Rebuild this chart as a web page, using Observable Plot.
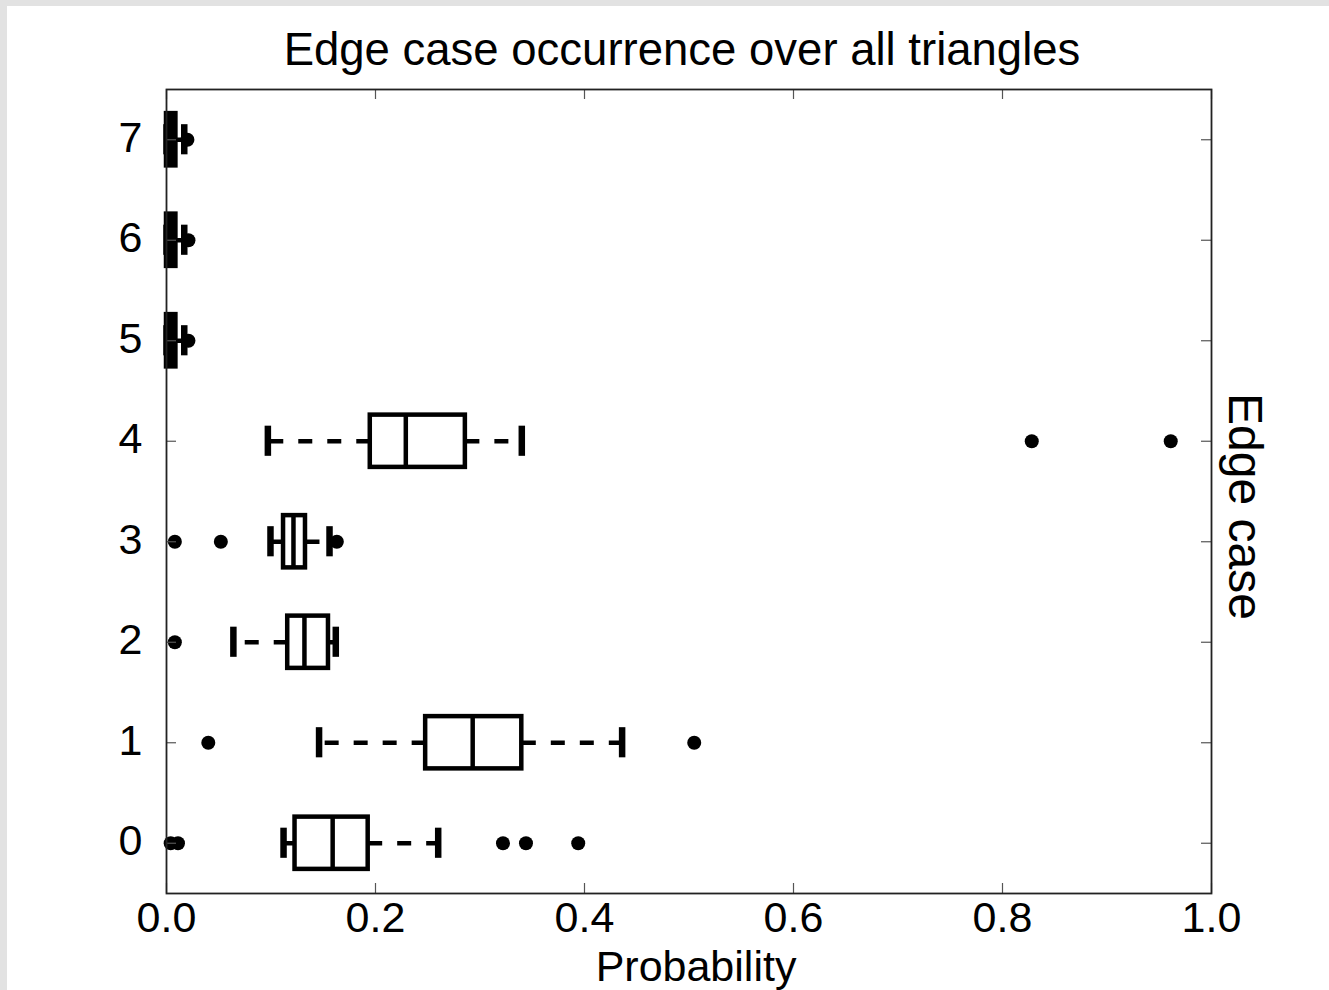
<!DOCTYPE html>
<html>
<head>
<meta charset="utf-8">
<script src="https://cdn.jsdelivr.net/npm/d3@7"></script>
<script src="https://cdn.jsdelivr.net/npm/@observablehq/plot@0.6"></script>
<style>
  html, body { margin: 0; padding: 0; width: 1329px; height: 990px; overflow: hidden; background: #e2e2e2; }
  #card { position: absolute; left: 7px; top: 6px; width: 1322px; height: 984px; background: #ffffff; }
  #chart { position: absolute; left: 0; top: 0; }
</style>
</head>
<body>
<div id="card"></div>
<div id="chart"></div>
<script>
// ---- data ----
const edgeCases   = [0, 1, 2, 3, 4, 5, 6, 7];
const whiskerLow  = [0.112, 0.146, 0.064, 0.0995, 0.097, 0.000, 0.000, 0.000];
const quartile1   = [0.123, 0.248, 0.116, 0.112, 0.195, 0.000, 0.000, 0.000];
const medians     = [0.159, 0.293, 0.132, 0.1215, 0.229, 0.003, 0.003, 0.003];
const quartile3   = [0.193, 0.340, 0.155, 0.133, 0.286, 0.009, 0.009, 0.009];
const whiskerHigh = [0.260, 0.436, 0.162, 0.156, 0.340, 0.017, 0.017, 0.017];
const outlierCase  = [0, 0, 0, 0, 0, 1, 1, 2, 3, 3, 3, 4, 4, 5, 6, 7];
const outlierValue = [0.004, 0.011, 0.322, 0.344, 0.394, 0.040, 0.505, 0.008, 0.008, 0.052, 0.163, 0.828, 0.961, 0.021, 0.021, 0.020];
const xTicks = [0.0, 0.2, 0.4, 0.6, 0.8, 1.0];
const yTicks = [0, 1, 2, 3, 4, 5, 6, 7];
const titleText = "Edge case occurrence over all triangles";
const xLabel = "Probability";
const yLabel = "Edge case";

// ---- build tables ----
const boxes = edgeCases.map((c, i) => ({
  c, lo: whiskerLow[i], q1: quartile1[i], med: medians[i], q3: quartile3[i], hi: whiskerHigh[i]
}));
const outliers = outlierCase.map((c, i) => ({c, v: outlierValue[i]}));

const W = 1329, H = 990;
const mL = 166, mR = 118, mT = 89, mB = 97;
const frameW = W - mL - mR, frameH = H - mT - mB;
const tickLen = 10;
const boxHalf = 0.26, capHalf = 0.15;
const font = "'Liberation Sans', Arial, Helvetica, sans-serif";

const plot = Plot.plot({
  width: W, height: H,
  marginLeft: mL, marginRight: mR, marginTop: mT, marginBottom: mB,
  style: {background: "transparent", fontFamily: font, fontSize: "43px", color: "#000"},
  x: {domain: [0, 1]},
  y: {domain: [-0.5, 7.5]},
  marks: [
    // whiskers (dashed, starting at box edges)
    Plot.link(boxes, {x1: "q1", x2: "lo", y1: "c", y2: "c", stroke: "black", strokeWidth: 4.5, strokeDasharray: "14,15"}),
    Plot.link(boxes, {x1: "q3", x2: "hi", y1: "c", y2: "c", stroke: "black", strokeWidth: 4.5, strokeDasharray: "14,15"}),
    // caps
    Plot.ruleX(boxes, {x: "lo", y1: d => d.c - capHalf, y2: d => d.c + capHalf, stroke: "black", strokeWidth: 6.5}),
    Plot.ruleX(boxes, {x: "hi", y1: d => d.c - capHalf, y2: d => d.c + capHalf, stroke: "black", strokeWidth: 6.5}),
    // boxes (very narrow boxes render solid, as thick outlines merge)
    Plot.rect(boxes, {x1: "q1", x2: "q3", y1: d => d.c - boxHalf, y2: d => d.c + boxHalf,
      fill: d => (d.q3 - d.q1 < 0.02 ? "black" : "white"), stroke: "black", strokeWidth: 4.5}),
    // medians
    Plot.ruleX(boxes, {x: "med", y1: d => d.c - boxHalf, y2: d => d.c + boxHalf, stroke: "black", strokeWidth: 4.5}),
    // outliers
    Plot.dot(outliers, {x: "v", y: "c", r: 7, fill: "black", stroke: "none"}),
    // inward ticks
    Plot.tickX(xTicks, {x: d => d, insetTop: frameH - tickLen, stroke: "#555", strokeWidth: 1.2}),
    Plot.tickX(xTicks, {x: d => d, insetBottom: frameH - tickLen, stroke: "#555", strokeWidth: 1.2}),
    Plot.tickY(yTicks, {y: d => d, insetRight: frameW - tickLen, stroke: "#555", strokeWidth: 1.2}),
    Plot.tickY(yTicks, {y: d => d, insetLeft: frameW - tickLen, stroke: "#555", strokeWidth: 1.2}),
    Plot.frame({stroke: "#222", strokeWidth: 1.8}),
    // axes
    Plot.axisX(xTicks, {tickSize: 0, tickPadding: 8, tickFormat: d3.format(".1f"), label: null, fontSize: 43, fill: "#000"}),
    Plot.axisY(yTicks, {tickSize: 0, tickPadding: 24, tickFormat: d => String(d), label: null, fontSize: 43, fill: "#000", dy: -2}),
    // labels
    Plot.text([titleText], {text: d => d, frameAnchor: "top", dx: -7, dy: -39, lineAnchor: "middle", fontSize: 45.5, fill: "#000"}),
    Plot.text([xLabel], {text: d => d, frameAnchor: "bottom", dx: 7, dy: 74, lineAnchor: "middle", fontSize: 43, fill: "#000"}),
    Plot.text([yLabel], {text: d => d, frameAnchor: "right", textAnchor: "middle", dx: 33, dy: 15, rotate: 90, lineAnchor: "middle", fontSize: 48, fill: "#000"})
  ]
});
document.getElementById("chart").appendChild(plot);
</script>
</body>
</html>
